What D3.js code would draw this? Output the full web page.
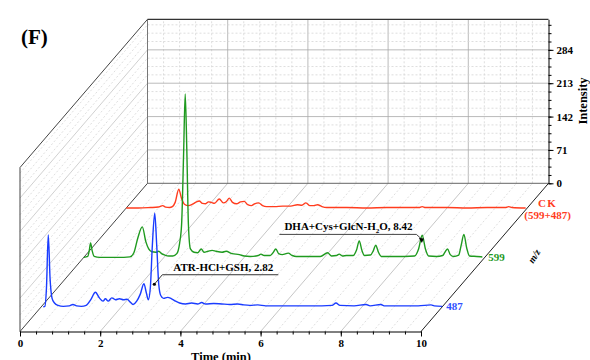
<!DOCTYPE html>
<html><head><meta charset="utf-8">
<script src="https://cdn.jsdelivr.net/npm/d3@7"></script>
<style>
body{margin:0;background:#fff}
svg{display:block}
text{font-family:"Liberation Serif","Times New Roman",serif;font-weight:bold}
</style>
</head><body><svg id="c" width="590" height="360"></svg>
<script>
// ---------- data ----------
const seriesNames = ["487", "599", "CK"];
const seriesColors = ["#1a3cff", "#1f9a1f", "#ff3c1e"];
const timeTicks = [0, 2, 4, 6, 8, 10];
const intensityTicks = [0, 71, 142, 213, 284];
const intensityMax = 349;

const data487 = [[0.05,0],[0.09,1],[0.13,40],[0.175,153],[0.22,60],[0.27,18],[0.33,8],[0.42,3],[0.55,1],[0.7,2],[0.79,5],[0.88,2],[1.0,1],[1.12,3],[1.24,16],[1.35,31],[1.45,19],[1.54,12],[1.6,17],[1.67,12],[1.76,19],[1.85,15],[1.95,17],[2.05,15],[2.14,16],[2.22,10],[2.29,5],[2.38,12],[2.47,27],[2.56,49],[2.62,30],[2.67,15],[2.72,40],[2.77,130],[2.83,199],[2.88,130],[2.93,48],[2.98,24],[3.05,18],[3.15,20],[3.25,17],[3.35,12],[3.45,8],[3.6,6],[3.75,8],[3.9,6],[4.0,9],[4.1,6],[4.3,7],[4.5,6],[4.7,5],[4.9,6],[5.05,4],[5.2,3],[5.4,4],[5.6,2],[5.8,2],[6.2,2],[6.6,2],[7.0,2],[7.25,3],[7.35,8],[7.45,3],[7.8,2],[8.1,5],[8.2,2],[8.47,5],[8.55,2],[9.0,2],[9.4,2],[9.72,4],[9.8,2],[10.0,1]];

const data599 = [[0,0],[0.1,2],[0.14,16],[0.17,31],[0.21,14],[0.26,2],[0.4,0],[0.7,0],[1.0,0],[1.15,1],[1.25,10],[1.35,42],[1.46,65],[1.55,33],[1.62,18],[1.7,12],[1.8,11],[1.87,13],[1.94,8],[2.02,5],[2.12,3],[2.22,3],[2.32,8],[2.39,30],[2.44,70],[2.49,220],[2.53,348],[2.57,230],[2.61,70],[2.66,18],[2.75,11],[2.84,10],[2.93,18],[3.0,11],[3.1,13],[3.2,15],[3.3,13],[3.45,11],[3.55,13],[3.7,8],[3.88,6],[4.0,3],[4.15,2],[4.35,4],[4.42,7],[4.5,4],[4.65,4],[4.72,10],[4.79,18],[4.86,8],[4.95,6],[5.1,9],[5.2,4],[5.3,2],[5.6,2],[5.9,2],[6.08,10],[6.18,3],[6.3,4],[6.37,7],[6.45,3],[6.55,4],[6.72,4],[6.8,15],[6.87,35],[6.94,14],[7.0,4],[7.15,5],[7.22,14],[7.28,26],[7.35,11],[7.42,2],[7.7,2],[8.0,2],[8.25,3],[8.35,18],[8.44,47],[8.52,18],[8.6,3],[8.8,2],[8.95,4],[9.0,10],[9.07,18],[9.14,6],[9.22,2],[9.35,5],[9.41,25],[9.48,49],[9.55,20],[9.62,3],[9.8,2],[9.94,1]];

const dataCK = [[0,0],[0.3,0],[0.6,1],[0.8,2],[0.91,5],[0.98,2],[1.08,1],[1.15,3],[1.22,12],[1.31,40],[1.38,20],[1.45,8],[1.55,5],[1.65,8],[1.75,13],[1.82,15],[1.9,10],[1.98,9],[2.05,13],[2.12,12],[2.2,10],[2.32,19],[2.42,11],[2.5,14],[2.57,21],[2.65,12],[2.75,9],[2.85,13],[2.94,14],[3.03,7],[3.12,5],[3.2,9],[3.3,11],[3.4,5],[3.5,3],[3.7,3],[3.9,4],[4.1,4],[4.27,7],[4.38,6],[4.48,11],[4.58,5],[4.68,5],[4.77,7],[4.88,3],[5.0,1],[5.5,1],[6.0,0],[6.5,1],[7.0,1],[7.3,1],[7.38,3],[7.46,1],[8.0,1],[8.5,0],[9.0,1],[9.45,1],[9.54,3],[9.62,1],[9.96,0]];

const seriesData = [data487, data599, dataCK];

const annotationTexts = ["ATR-HCl+GSH, 2.82", "DHA+Cys+GlcN-H2O, 8.42"];
const annotationSeries = ["487", "599"];
const annotationTimes = [2.82, 8.42];
const annotationIntensities = [48, 33];

// ---------- geometry ----------
const X0 = 20, X1 = 421, BASE = 331.5, DX = 127.5, DY = 148.2, ZH = 164;
const svg = d3.select("#c");
const x = d3.scaleLinear().domain([0, 10]).range([X0, X1]);
const z = d3.scaleLinear().domain([0, intensityMax]).range([0, ZH]);
const depth = d3.scalePoint().domain(seriesNames).range([0, 1]).padding(0.5);
const proj = (t, I, f) => [x(t) + DX * f, BASE - DY * f - z(I)];

const minorT = d3.range(0, 10.0001, 0.4).map(v => +v.toFixed(2));
const minorI = d3.range(0, intensityMax, 17.75);
const isMajorT = v => Math.abs(v / 2 - Math.round(v / 2)) < 1e-6;
const isMajorI = v => Math.abs(v / 71 - Math.round(v / 71)) < 1e-6;

const grid = svg.append("g");
const seg = (p, q, stroke, dash, w) => grid.append("line")
  .attr("x1", p[0]).attr("y1", p[1]).attr("x2", q[0]).attr("y2", q[1])
  .attr("stroke", stroke).attr("stroke-width", w || 0.8)
  .attr("stroke-dasharray", dash || null);

// floor diagonals
minorT.forEach(t => {
  if (t === 0 || t === 10) return;
  const maj = isMajorT(t);
  seg(proj(t, 0, 0), proj(t, 0, 1), maj ? "#b8b8b8" : "#d6d6d6", maj ? null : "2,2");
});
// left wall diagonals
minorI.forEach(I => {
  if (I === 0) return;
  const maj = isMajorI(I);
  seg(proj(0, I, 0), proj(0, I, 1), maj ? "#c4c4c4" : "#d6d6d6", maj ? null : "2,2");
});
// back plane grid
minorT.forEach(t => {
  if (t === 0 || t === 10) return;
  const maj = isMajorT(t);
  seg(proj(t, 0, 1), proj(t, intensityMax, 1), maj ? "#aaaaaa" : "#d6d6d6", maj ? null : "2,2");
});
minorI.forEach(I => {
  if (I === 0) return;
  const maj = isMajorI(I);
  seg(proj(0, I, 1), proj(10, I, 1), maj ? "#aaaaaa" : "#d6d6d6", maj ? null : "2,2");
});

// frame edges
seg(proj(0, intensityMax, 1), proj(10, intensityMax, 1), "#333", null, 1.2);
seg(proj(0, 0, 1), proj(0, intensityMax, 1), "#777", null, 1);
seg(proj(0, 0, 1), proj(10, 0, 1), "#666", null, 1);
seg(proj(0, 0, 0), proj(0, intensityMax, 0), "#444", null, 1);
seg(proj(0, intensityMax, 0), proj(0, intensityMax, 1), "#444", null, 1);
seg(proj(0, 0, 0), proj(0, 0, 1), "#444", null, 1);
// m/z axis
seg(proj(10, 0, 0), proj(10, 0, 1), "#222", null, 1);

// ---------- axes ----------
const xAxisG = svg.append("g").attr("transform", `translate(0,${BASE})`);
xAxisG.append("g").call(d3.axisBottom(x).tickValues(minorT).tickSize(3).tickFormat("").tickSizeOuter(0))
  .call(g => g.select(".domain").remove());
xAxisG.append("g").call(d3.axisBottom(x).tickValues(timeTicks).tickSize(5).tickPadding(3).tickSizeOuter(0));
xAxisG.selectAll("text").attr("font-size", 11).attr("font-family", null).attr("fill", "#000");
xAxisG.selectAll(".domain,line").attr("stroke", "#000").attr("stroke-width", 1);

const yR = d3.scaleLinear().domain([0, intensityMax]).range([BASE - DY, BASE - DY - ZH]);
const yAxisG = svg.append("g").attr("transform", `translate(${X1 + DX},0)`);
yAxisG.append("g").call(d3.axisRight(yR).tickValues(minorI).tickSize(3).tickFormat("").tickSizeOuter(0))
  .call(g => g.select(".domain").remove());
yAxisG.append("g").call(d3.axisRight(yR).tickValues(intensityTicks).tickSize(5).tickPadding(3).tickSizeOuter(0));
yAxisG.selectAll("text").attr("font-size", 11).attr("font-family", null).attr("fill", "#000");
yAxisG.selectAll(".domain,line").attr("stroke", "#000").attr("stroke-width", 1);

// axis titles
svg.append("text").attr("x", 221).attr("y", 361).attr("text-anchor", "middle")
  .attr("font-size", 12.5).text("Time (min)");
svg.append("text").attr("transform", "translate(587,101) rotate(-90)").attr("text-anchor", "middle")
  .attr("font-size", 12.5).text("Intensity");
svg.append("text").attr("transform", "translate(537,258) rotate(-58)").attr("text-anchor", "middle")
  .attr("font-size", 10).attr("font-style", "italic").text("m/z");
svg.append("text").attr("x", 21).attr("y", 44).attr("font-size", 21).text("(F)");

// ---------- series ----------
const line = d3.line().curve(d3.curveMonotoneX);
seriesNames.slice().reverse().forEach(name => {
  const i = seriesNames.indexOf(name);
  const f = depth(name);
  svg.append("path")
    .attr("d", line(seriesData[i].map(d => proj(d[0], d[1], f))))
    .attr("fill", "none").attr("stroke", seriesColors[i]).attr("stroke-width", 1.4)
    .attr("stroke-linejoin", "round");
});

// series labels
{
  const e0 = data487[data487.length - 1], p0 = proj(e0[0], e0[1], depth("487"));
  svg.append("text").attr("x", p0[0] + 4).attr("y", p0[1] + 4).attr("font-size", 11)
    .attr("fill", "#3050ff").text("487");
  const e1 = data599[data599.length - 1], p1 = proj(e1[0], e1[1], depth("599"));
  svg.append("text").attr("x", p1[0] + 6).attr("y", p1[1] + 4).attr("font-size", 11)
    .attr("fill", "#1f9a1f").text("599");
  const e2 = dataCK[dataCK.length - 1], p2 = proj(e2[0], e2[1], depth("CK"));
  svg.append("text").attr("x", p2[0] + 22).attr("y", p2[1] - 1).attr("text-anchor", "middle")
    .attr("font-size", 11).attr("letter-spacing", 1.5).attr("fill", "#ff3c1e").text("CK");
  svg.append("text").attr("x", p2[0] + 22).attr("y", p2[1] + 11).attr("text-anchor", "middle")
    .attr("font-size", 11).attr("fill", "#ff3c1e").text("(599+487)");
}

// ---------- annotations ----------
{
  const p = proj(annotationTimes[0], annotationIntensities[0], depth(annotationSeries[0]));
  const ex = p[0] + 8, ey = p[1] - 9.5;
  svg.append("path").attr("d", `M${p[0]},${p[1]}L${ex},${ey}H${ex + 116}`)
    .attr("fill", "none").attr("stroke", "#333").attr("stroke-width", 1);
  svg.append("circle").attr("cx", p[0]).attr("cy", p[1]).attr("r", 1.6).attr("fill", "#000");
  svg.append("text").attr("x", ex + 11).attr("y", ey - 4).attr("font-size", 11)
    .text(annotationTexts[0]);
}
{
  const p = proj(annotationTimes[1], annotationIntensities[1], depth(annotationSeries[1]));
  const ex = p[0] - 5, ey = p[1] - 7.5;
  svg.append("path").attr("d", `M${p[0]},${p[1] - 3}L${ex},${ey}H${ex - 137}`)
    .attr("fill", "none").attr("stroke", "#444").attr("stroke-width", 1);
  svg.append("path").attr("d", `M${p[0] + 0.5},${p[1] + 1}l-3,-5l5,0.5z`).attr("fill", "#000");
  const parts = annotationTexts[1].split("H2O");
  const t = svg.append("text").attr("x", ex - 132).attr("y", ey - 4).attr("font-size", 11);
  t.append("tspan").text(parts[0] + "H");
  t.append("tspan").attr("font-size", 7).attr("dy", 3).text("2");
  t.append("tspan").attr("dy", -3).text("O" + parts[1]);
}
</script>
</body></html>
